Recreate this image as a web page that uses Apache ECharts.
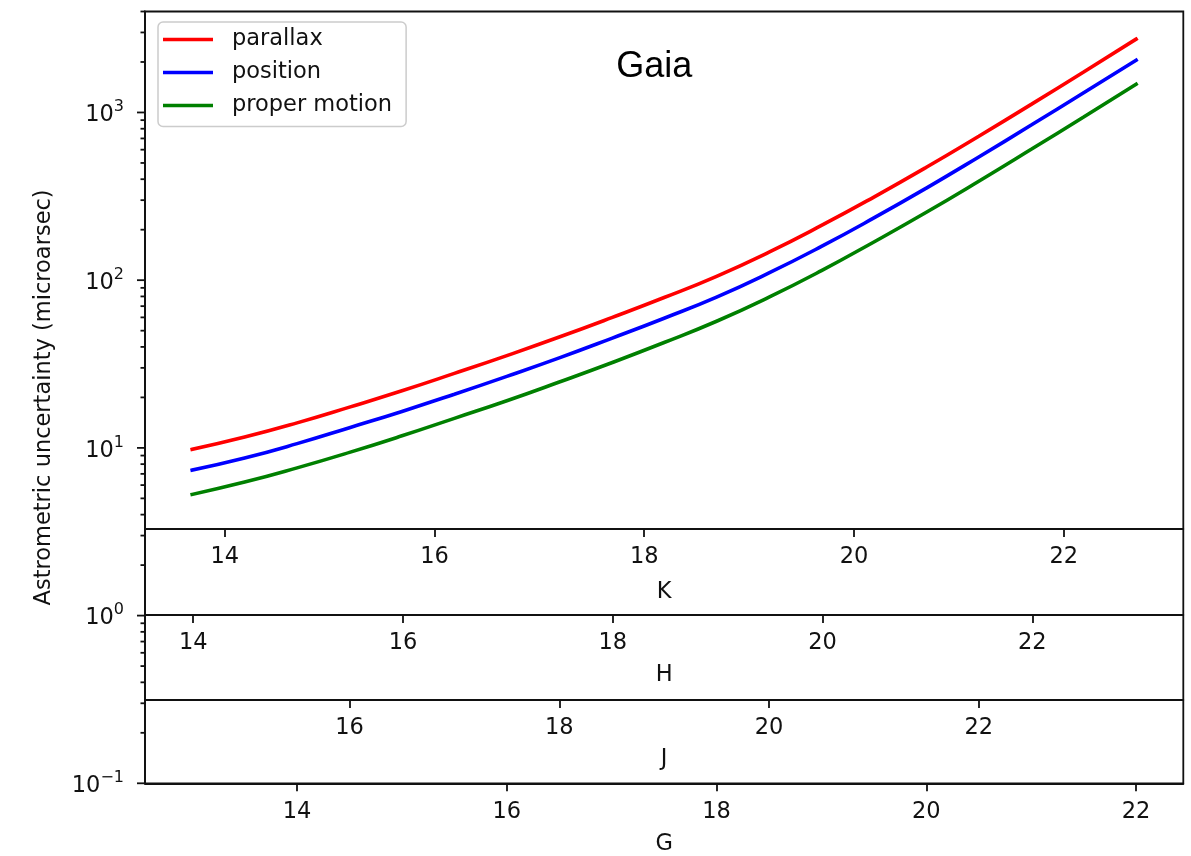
<!DOCTYPE html>
<html>
<head>
<meta charset="utf-8">
<title>Gaia astrometric uncertainty</title>
<script src="https://cdn.jsdelivr.net/npm/echarts@6/dist/echarts.min.js"></script>
<style>
  html, body { margin: 0; padding: 0; background: #ffffff; }
  #chart { width: 1191px; height: 856px; }
</style>
</head>
<body>
<div id="chart"></div>
<script>
// G magnitude sampling of the curves
const gMag = [13, 13.5, 14, 14.5, 15, 15.5, 16, 16.5, 17, 17.5, 18, 18.5, 19, 19.5, 20, 20.5, 21, 21.5, 22];

// Astrometric uncertainties in microarcseconds
const parallax     = [9.8, 11.6, 14.1, 17.5, 21.9, 27.8, 35.5, 45.8, 59.8, 78.8, 105.5, 147, 212, 313, 471, 722, 1118, 1745, 2738];
const position     = [7.37, 8.7, 10.6, 13.2, 16.5, 20.9, 26.7, 34.4, 45.0, 59.3, 79.3, 110.5, 159, 235, 354, 543, 841, 1312, 2050];
const properMotion = [5.28, 6.25, 7.6, 9.4, 11.8, 15.0, 19.1, 24.7, 32.2, 42.5, 56.9, 79.2, 114, 169, 254, 389, 603, 940, 1475];

// Magnitude axes: G range and the offsets of the K, H, J scales relative to G
const gRange = [12.55, 22.45];
const kShift = 0.69;
const hShift = 0.99;
const jShift = 1.5;

// Tick labels of each magnitude axis
const gTicks = [14, 16, 18, 20, 22];
const kTicks = [14, 16, 18, 20, 22];
const hTicks = [14, 16, 18, 20, 22];
const jTicks = [16, 18, 20, 22];

// Log axis: range, decade ticks, minor tick multipliers
const yRange = [0.1, 4000];
const decadeTicks = [0.1, 1, 10, 100, 1000];
const minorMultipliers = [2, 3, 4, 5, 6, 7, 8, 9];

const FONT = 'DejaVu Sans';
const FS = 22.5;
const INK = '#111111';
const AXW = 1.8;
const LINE_W = 3.6;

const minorTicks = [];
decadeTicks.forEach(d => {
  minorMultipliers.forEach(m => {
    const v = d * m;
    if (v <= yRange[1] + 1e-9) minorTicks.push(v);
  });
});

const tickMarks = decadeTicks.map(v => [gRange[0], v, 8])
  .concat(minorTicks.map(v => [gRange[0], v, 4.5]));

function pairs(vals) { return gMag.map((g, i) => [g, vals[i]]); }

function magAxis(name, range, ticks, offset, nameGap) {
  return {
    type: 'value',
    position: 'bottom',
    offset: offset,
    min: range[0],
    max: range[1],
    name: name,
    nameLocation: 'middle',
    nameGap: nameGap,
    nameTextStyle: { fontFamily: FONT, fontSize: FS, color: INK },
    axisLine: { show: true, onZero: false, lineStyle: { color: INK, width: AXW } },
    axisTick: { show: true, inside: false, length: 8, lineStyle: { color: INK, width: AXW }, customValues: ticks },
    axisLabel: { show: true, margin: 17, fontFamily: FONT, fontSize: FS, color: INK, customValues: ticks },
    splitLine: { show: false },
    minorTick: { show: false }
  };
}

function curve(name, vals, color) {
  return {
    name: name, type: 'line', xAxisIndex: 0, yAxisIndex: 0,
    data: pairs(vals), showSymbol: false, symbol: 'none',
    smooth: 0.5,
    color: color, lineStyle: { color: color, width: LINE_W, cap: 'square' }, z: 3
  };
}

const chart = echarts.init(document.getElementById('chart'), null, { renderer: 'canvas' });

chart.setOption({
  animation: false,
  backgroundColor: '#ffffff',
  grid: {
    left: 145, right: 7.7, top: 11.5, bottom: 72.7,
    containLabel: false,
    outerBoundsMode: 'none',
    show: true,
    borderColor: INK,
    borderWidth: AXW,
    backgroundColor: 'transparent'
  },
  graphic: [{
    type: 'text',
    x: 654.3,
    y: 67.5,
    z: 100,
    style: {
      text: 'Gaia',
      fontFamily: 'Liberation Sans, Arial, sans-serif',
      fontSize: 36,
      fill: '#000000',
      align: 'center',
      verticalAlign: 'middle',
      textAlign: 'center',
      textVerticalAlign: 'middle'
    }
  }],
  legend: {
    show: true,
    orient: 'vertical',
    left: 158,
    top: 22,
    data: ['parallax', 'position', 'proper motion'],
    icon: 'rect',
    itemWidth: 50,
    itemHeight: 3.6,
    itemGap: 10,
    padding: [6, 14, 9.5, 5],
    backgroundColor: 'rgba(255,255,255,0.8)',
    borderColor: '#cccccc',
    borderWidth: 1.5,
    borderRadius: 5,
    selectedMode: false,
    textStyle: { fontFamily: FONT, fontSize: FS, color: INK, padding: [0, 0, 0, 14] }
  },
  xAxis: [
    magAxis('G', gRange, gTicks, 0, 49),
    magAxis('J', [gRange[0] + jShift, gRange[1] + jShift], jTicks, -83.3, 47.5),
    magAxis('H', [gRange[0] + hShift, gRange[1] + hShift], hTicks, -168.3, 49),
    magAxis('K', [gRange[0] + kShift, gRange[1] + kShift], kTicks, -254.3, 51.5)
  ],
  yAxis: {
    type: 'log',
    logBase: 10,
    min: yRange[0],
    max: yRange[1],
    name: 'Astrometric uncertainty (microarsec)',
    nameLocation: 'middle',
    nameRotate: 90,
    nameGap: 89,
    nameTextStyle: { fontFamily: FONT, fontSize: FS, color: INK },
    axisLine: { show: true, onZero: false, lineStyle: { color: INK, width: AXW } },
    axisTick: { show: false },
    minorTick: { show: false },
    splitLine: { show: false },
    axisLabel: {
      margin: 21,
      color: INK,
      formatter: function (v) {
        const e = Math.round(Math.log10(v));
        if (Math.abs(Math.log10(v) - e) > 1e-6) return '';
        const exp = e < 0 ? '\u2212' + (-e) : String(e);
        return '{b|10}{s|' + exp + '}';
      },
      rich: {
        b: { fontFamily: FONT, fontSize: FS, color: INK, padding: [6, 0, 0, 0] },
        s: { fontFamily: FONT, fontSize: 16, color: INK, padding: [0, 0, 11, 0] }
      }
    }
  },
  series: [
    curve('parallax', parallax, '#ff0000'),
    curve('position', position, '#0000ff'),
    curve('proper motion', properMotion, '#008000'),
    {
      // major and minor ticks of the logarithmic axis
      name: 'yTicks', type: 'custom', xAxisIndex: 0, yAxisIndex: 0,
      silent: true, clip: false, z: 5,
      data: tickMarks,
      encode: { x: 0, y: 1 },
      renderItem: function (params, api) {
        const p = api.coord([api.value(0), api.value(1)]);
        const len = api.value(2);
        return {
          type: 'line',
          shape: { x1: p[0] - len, y1: p[1], x2: p[0], y2: p[1] },
          style: { stroke: INK, lineWidth: AXW }
        };
      }
    }
  ]
});
</script>
</body>
</html>
